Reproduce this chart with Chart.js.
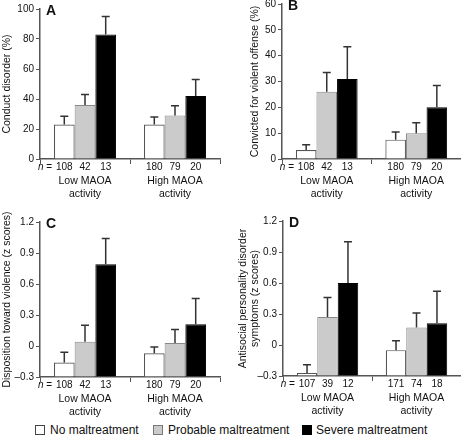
<!DOCTYPE html>
<html>
<head>
<meta charset="utf-8">
<script src="https://cdn.jsdelivr.net/npm/chart.js@4/dist/chart.umd.min.js"></script>
<style>
  body { margin: 0; background: #fff; width: 461px; height: 435px; position: relative; overflow: hidden;
         font-family: "Liberation Sans", Arial, sans-serif; color: #111; }
  canvas { position: absolute; }
  .key { position: absolute; top: 423px; font-size: 12px; line-height: 14px; white-space: nowrap; }
  .box { position: absolute; top: 425px; width: 10px; height: 10px; box-sizing: border-box; }
</style>
</head>
<body>
<canvas id="panelA" width="230" height="200" style="left:0;top:0"></canvas>
<canvas id="panelB" width="231" height="206" style="left:230px;top:-6px"></canvas>
<canvas id="panelC" width="230" height="222" style="left:0;top:200px"></canvas>
<canvas id="panelD" width="231" height="222" style="left:230px;top:200px"></canvas>

<div class="box" style="left:35px;background:#fff;border:1px solid #444"></div>
<div class="key" style="left:50px">No maltreatment</div>
<div class="box" style="left:153px;background:#cbcbcb;border:1px solid #777"></div>
<div class="key" style="left:168px">Probable maltreatment</div>
<div class="box" style="left:302px;background:#000;border:1px solid #000"></div>
<div class="key" style="left:316px">Severe maltreatment</div>

<script>
const groups = [['Low MAOA', 'activity'], ['High MAOA', 'activity']];
const seriesNames = ['No maltreatment', 'Probable maltreatment', 'Severe maltreatment'];

// A - conduct disorder (%)
const conductNone = [23, 23];
const conductProb = [36, 29];
const conductSev = [83, 42];
const conductNoneErr = [28.5, 28];
const conductProbErr = [43, 35.5];
const conductSevErr = [95, 53];

// B - convicted for violent offense (%)
const convictNone = [3.5, 7.5];
const convictProb = [26, 10];
const convictSev = [31, 20];
const convictNoneErr = [5.5, 10.5];
const convictProbErr = [33.5, 14];
const convictSevErr = [43.5, 28.5];

// C - disposition toward violence (z scores)
const dispoNone = [-0.16, -0.07];
const dispoProb = [0.04, 0.03];
const dispoSev = [0.79, 0.21];
const dispoNoneErr = [-0.06, -0.01];
const dispoProbErr = [0.2, 0.16];
const dispoSevErr = [1.04, 0.46];

// D - antisocial personality disorder symptoms (z scores)
const apdNone = [-0.27, -0.05];
const apdProb = [0.27, 0.17];
const apdSev = [0.6, 0.21];
const apdNoneErr = [-0.19, 0.04];
const apdProbErr = [0.46, 0.31];
const apdSevErr = [1.0, 0.52];

// sample sizes under each bar
const nNone = [108, 180];
const nProb = [42, 79];
const nSev = [13, 20];
const nNoneD = [107, 171];
const nProbD = [39, 74];
const nSevD = [12, 18];

const FONT = '"Liberation Sans", Arial, sans-serif';
Chart.defaults.font.family = FONT;

const panelExtras = {
    id: 'panelExtras',
    afterDatasetsDraw(chart, args, opts) {
        const ctx = chart.ctx;
        const area = chart.chartArea;
        const yScale = chart.scales.y;
        ctx.save();

        // upper error bars
        ctx.strokeStyle = '#333';
        ctx.lineWidth = 1.5;
        opts.errors.forEach((errs, i) => {
            chart.getDatasetMeta(i).data.forEach((bar, j) => {
                const yTop = yScale.getPixelForValue(errs[j]);
                ctx.beginPath();
                ctx.moveTo(bar.x, bar.y);
                ctx.lineTo(bar.x, yTop);
                ctx.moveTo(bar.x - 4, yTop);
                ctx.lineTo(bar.x + 4, yTop);
                ctx.stroke();
            });
        });

        // n = ... row
        ctx.fillStyle = '#111';
        ctx.textBaseline = 'middle';
        const yRow = area.bottom + 8;
        opts.counts.forEach((counts, i) => {
            chart.getDatasetMeta(i).data.forEach((bar, j) => {
                const txt = String(counts[j]);
                ctx.font = '10px ' + FONT;
                ctx.textAlign = 'center';
                ctx.fillText(txt, bar.x, yRow);
                if (i === 0 && j === 0) {
                    const half = ctx.measureText(txt).width / 2;
                    ctx.textAlign = 'right';
                    ctx.fillText('= ', bar.x - half - 1, yRow);
                    const eqW = ctx.measureText('= ').width;
                    ctx.font = 'italic 10px ' + FONT;
                    ctx.fillText('n ', bar.x - half - 1 - eqW, yRow);
                }
            });
        });

        // panel letter
        ctx.font = 'bold 14px ' + FONT;
        ctx.textAlign = 'left';
        ctx.fillText(opts.letter, area.left + 6, area.top + 2);
        ctx.restore();
    }
};

function makePanel(id, p) {
    const datasets = [
        { label: seriesNames[0], data: p.values[0], backgroundColor: '#ffffff', borderColor: '#555', borderWidth: 1.2 },
        { label: seriesNames[1], data: p.values[1], backgroundColor: '#cbcbcb', borderColor: '#888', borderWidth: 1 },
        { label: seriesNames[2], data: p.values[2], backgroundColor: '#000000', borderColor: '#000', borderWidth: 1 }
    ];
    datasets.forEach(d => {
        d.categoryPercentage = 0.69;
        d.barPercentage = 1.0;
        if (p.base !== undefined) d.base = p.base;
    });

    new Chart(document.getElementById(id), {
        type: 'bar',
        data: { labels: groups, datasets },
        plugins: [panelExtras],
        options: {
            responsive: false,
            animation: false,
            devicePixelRatio: 1,
            layout: { padding: { left: 0, top: p.padTop, right: p.padRight, bottom: 0 } },
            plugins: {
                legend: { display: false },
                tooltip: { enabled: false },
                panelExtras: { letter: p.letter, errors: p.errors, counts: p.counts }
            },
            scales: {
                x: {
                    ticks: { font: { size: 10.5, lineHeight: 1.2 }, color: '#111', padding: 11, maxRotation: 0 },
                    grid: { offset: true, drawOnChartArea: false, tickLength: 5, color: '#555' },
                    border: { color: '#555', width: 1.5 },
                    afterFit: s => { s.height = p.xHeight; }
                },
                y: {
                    min: p.min,
                    max: p.max,
                    ticks: {
                        stepSize: p.step,
                        font: { size: 10 },
                        color: '#111',
                        padding: 2,
                        callback: v => String(Number(v.toFixed(1))).replace('-', '\u2013')
                    },
                    grid: { drawOnChartArea: false, tickLength: 4, color: '#555' },
                    border: { color: '#555', width: 1.5 },
                    title: {
                        display: true,
                        text: p.title,
                        color: '#111',
                        font: { size: 10.5, lineHeight: p.titleLH || 1.2 },
                        padding: { top: p.titlePad, bottom: 0 }
                    },
                    afterFit: s => { s.width = p.yWidth; }
                }
            }
        }
    });
}

makePanel('panelA', {
    letter: 'A', title: 'Conduct disorder (%)', min: 0, max: 100, step: 20,
    values: [conductNone, conductProb, conductSev],
    errors: [conductNoneErr, conductProbErr, conductSevErr],
    counts: [nNone, nProb, nSev],
    padTop: 9, padRight: 10, yWidth: 40, xHeight: 41, titlePad: 0.5
});

makePanel('panelB', {
    letter: 'B', title: 'Convicted for violent offense (%)', min: 0, max: 60, step: 10,
    values: [convictNone, convictProb, convictSev],
    errors: [convictNoneErr, convictProbErr, convictSevErr],
    counts: [nNone, nProb, nSev],
    padTop: 10, padRight: 0, yWidth: 52, xHeight: 41, titlePad: 18.5
});

makePanel('panelC', {
    letter: 'C', title: 'Disposition toward violence (z scores)', min: -0.3, max: 1.2, step: 0.3, base: -0.3,
    values: [dispoNone, dispoProb, dispoSev],
    errors: [dispoNoneErr, dispoProbErr, dispoSevErr],
    counts: [nNone, nProb, nSev],
    padTop: 22, padRight: 10, yWidth: 40, xHeight: 45, titlePad: 0.5
});

makePanel('panelD', {
    letter: 'D', title: ['Antisocial personality disorder', 'symptoms (z scores)'],
    min: -0.3, max: 1.2, step: 0.3, base: -0.3,
    values: [apdNone, apdProb, apdSev],
    errors: [apdNoneErr, apdProbErr, apdSevErr],
    counts: [nNoneD, nProbD, nSevD],
    padTop: 21, padRight: 0, yWidth: 53, xHeight: 46, titlePad: 7.5, titleLH: 1.1
});
</script>
</body>
</html>
